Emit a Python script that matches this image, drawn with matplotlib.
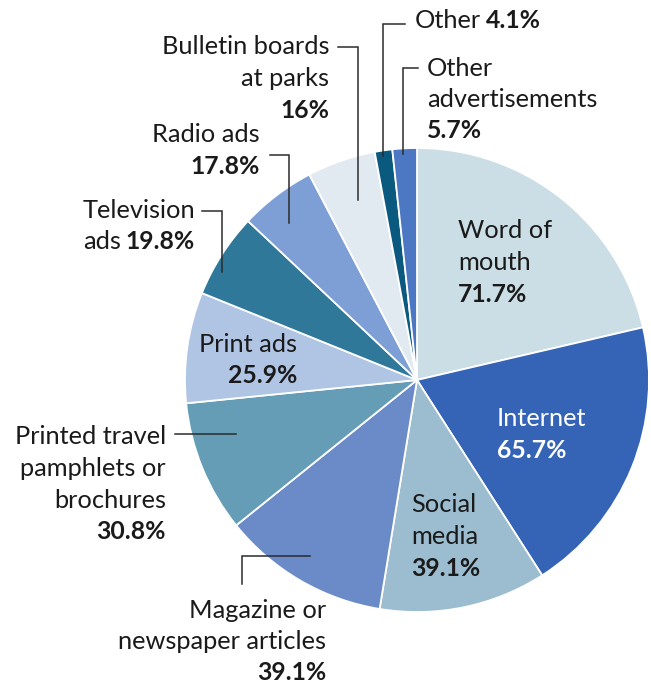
import matplotlib
matplotlib.use("Agg")
import matplotlib.pyplot as plt

# Share of respondents by information source (%)
categories = ["Word of mouth", "Internet", "Social media", "Magazine or newspaper articles",
              "Printed travel pamphlets or brochures", "Print ads", "Television ads",
              "Radio ads", "Bulletin boards at parks", "Other", "Other advertisements"]
values = [71.7, 65.7, 39.1, 39.1, 30.8, 25.9, 19.8, 17.8, 16.0, 4.1, 5.7]
colors = ["#cbdee6", "#3564b7", "#9bbdcf", "#6a8ac8", "#659db6", "#b0c4e4",
          "#2f7899", "#7e9fd5", "#e2eaf1", "#0a5a80", "#4c77c2"]

W, H = 651, 686
fig = plt.figure(figsize=(W / 100, H / 100), dpi=100)
ax = fig.add_axes([0, 0, 1, 1])

cx, cy, r = 417, H - 380, 232
ax.pie(values, colors=colors, startangle=90, counterclock=False,
       center=(cx, cy), radius=r, frame=True,
       wedgeprops=dict(edgecolor="white", linewidth=1.3))
ax.set_xlim(0, W)
ax.set_ylim(0, H)
ax.set_aspect("equal")
ax.axis("off")

FAM = ["Lato", "DejaVu Sans"]
FS_REG = 18.3
FS_BOLD = 17.8
LH = 31.5


def txt(x, y, s, ha, bold, color):
    return ax.text(x, y, s, ha=ha, va="center", family=FAM,
                   fontsize=FS_BOLD if bold else FS_REG,
                   fontweight="bold" if bold else "normal", color=color)


def label(x, y, lines, ha="left", color="#1a1a1a"):
    """lines: list of lists of (text, bold) runs; y is the first line's centre (pixels from top)."""
    for i, runs in enumerate(lines):
        yy = H - (y + i * LH)
        if len(runs) == 1:
            t, b = runs[0]
            txt(x, yy, t, ha, b, color)
        else:
            # two runs on one line: normal text followed by bold value
            (t1, _), (t2, _) = runs
            if ha == "right":
                a = txt(x, yy, t2, "right", True, color)
                fig.canvas.draw()
                bb = a.get_window_extent()
                txt(bb.x0 - 5, yy, t1, "right", False, color)
            else:
                a = txt(x, yy, t1, "left", False, color)
                fig.canvas.draw()
                bb = a.get_window_extent()
                txt(bb.x1 + 5, yy, t2, "left", True, color)


def pct(v):
    return f"{v:g}%"


label(458, 231, [[("Word of", 0)], [("mouth", 0)], [(pct(values[0]), 1)]])
label(497, 419, [[("Internet", 0)], [(pct(values[1]), 1)]], color="white")
label(411, 505, [[("Social", 0)], [("media", 0)], [(pct(values[2]), 1)]])
label(326, 610, [[("Magazine or", 0)], [("newspaper articles", 0)], [(pct(values[3]), 1)]], ha="right")
label(166, 437, [[("Printed travel", 0)], [("pamphlets or", 0)], [("brochures", 0)], [(pct(values[4]), 1)]], ha="right")
label(297, 344, [[("Print ads", 0)], [(pct(values[5]), 1)]], ha="right")
label(195, 210, [[("Television", 0)], [("ads", 0), (pct(values[6]), 1)]], ha="right")
label(260, 135, [[("Radio ads", 0)], [(pct(values[7]), 1)]], ha="right")
label(329, 47, [[("Bulletin boards", 0)], [("at parks", 0)], [(pct(values[8]), 1)]], ha="right")
label(415, 20, [[("Other", 0), (pct(values[9]), 1)]])
label(427, 68, [[("Other", 0)], [("advertisements", 0)], [(pct(values[10]), 1)]])

# Leader lines (pixel coordinates from top-left)
leaders = [
    [(338, 47), (358, 47), (358, 200)],
    [(405, 24), (383, 24), (383, 156)],
    [(418, 68), (403, 68), (403, 154)],
    [(270, 155), (289, 155), (289, 223)],
    [(202, 211), (222, 211), (222, 272)],
    [(175, 434), (236, 434)],
    [(310, 556), (242, 556), (242, 584)],
]
for pts in leaders:
    xs = [p[0] for p in pts]
    ys = [H - p[1] for p in pts]
    ax.plot(xs, ys, color="#2b2b2b", linewidth=1.1, solid_joinstyle="miter")

fig.savefig("out.png", dpi=100)
